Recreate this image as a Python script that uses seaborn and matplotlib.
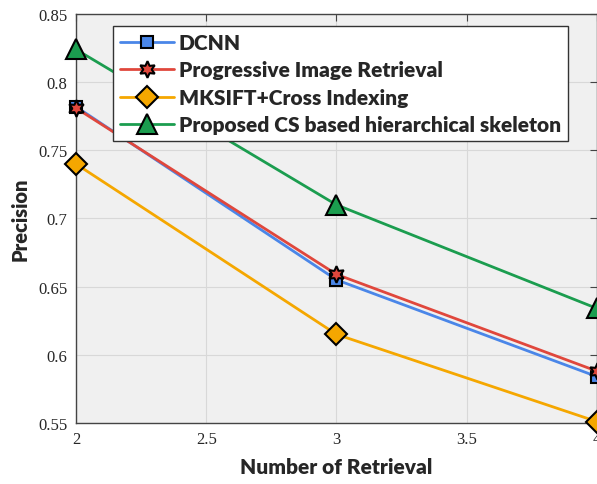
import numpy as np
import pandas as pd
import matplotlib
matplotlib.use("Agg")
import matplotlib.pyplot as plt
import seaborn as sns

# values
retrieval = [2, 3, 4]
dcnn = [0.782, 0.655, 0.584]
progressive = [0.781, 0.659, 0.588]
mksift = [0.740, 0.615, 0.551]
proposed = [0.824, 0.710, 0.634]

names = ["DCNN", "Progressive Image Retrieval", "MKSIFT+Cross Indexing",
         "Proposed CS based hierarchical skeleton"]
colors = ["#4a86e8", "#e0473c", "#f5a700", "#1b9d4f"]
markers = ["s", (6, 1, 0), "D", "^"]
msizes = [9, 12, 11, 14]

xticks = [2, 2.5, 3, 3.5, 4]
xticklabels = ["2", "2.5", "3", "3.5", "4"]
yticks = [0.55, 0.6, 0.65, 0.7, 0.75, 0.8, 0.85]
yticklabels = ["0.55", "0.6", "0.65", "0.7", "0.75", "0.8", "0.85"]

sns.set_style("whitegrid")
plt.rcParams["font.family"] = ["Liberation Serif", "DejaVu Serif"]

fig = plt.figure(figsize=(5.97, 4.85), dpi=100)
ax = fig.add_axes([0.1273, 0.1258, 0.8727, 0.8433])
ax.set_facecolor("#f0f0f0")

series = [dcnn, progressive, mksift, proposed]
for name, vals, c, m, ms in zip(names, series, colors, markers, msizes):
    df = pd.DataFrame({"x": retrieval, "y": vals})
    sns.lineplot(data=df, x="x", y="y", ax=ax, color=c, linewidth=2,
                 marker=m, markersize=ms, markeredgecolor="black",
                 markeredgewidth=1.5, markerfacecolor=c, label=name,
                 clip_on=False, zorder=3)

ax.set_xlim(2, 4)
ax.set_ylim(0.55, 0.85)
ax.set_xticks(xticks)
ax.set_xticklabels(xticklabels)
ax.set_yticks(yticks)
ax.set_yticklabels(yticklabels)
ax.tick_params(axis="both", direction="in", length=5, labelsize=12,
               top=True, right=True, color="#444444", pad=6)
ax.grid(True, color="#d8d8d8", linewidth=0.8)
for s in ax.spines.values():
    s.set_color("#444444")
    s.set_linewidth(1.0)

ax.set_xlabel("Number of Retrieval", fontsize=15, fontweight="heavy",
              family=["Lato", "DejaVu Sans"], labelpad=7)
ax.set_ylabel("Precision", fontsize=14.5, fontweight="heavy",
              family=["Lato", "DejaVu Sans"], labelpad=6)

leg = ax.legend(loc="upper left", bbox_to_anchor=(0.071, 0.971),
                borderaxespad=0, frameon=True, fancybox=False,
                edgecolor="#333333", framealpha=1, handlelength=2.6,
                handletextpad=0.2, labelspacing=0.4, borderpad=0.35,
                prop={"family": ["Lato", "DejaVu Sans"], "weight": "heavy", "size": 15})
leg.get_frame().set_linewidth(1.0)

fig.savefig("out.png", dpi=100)
